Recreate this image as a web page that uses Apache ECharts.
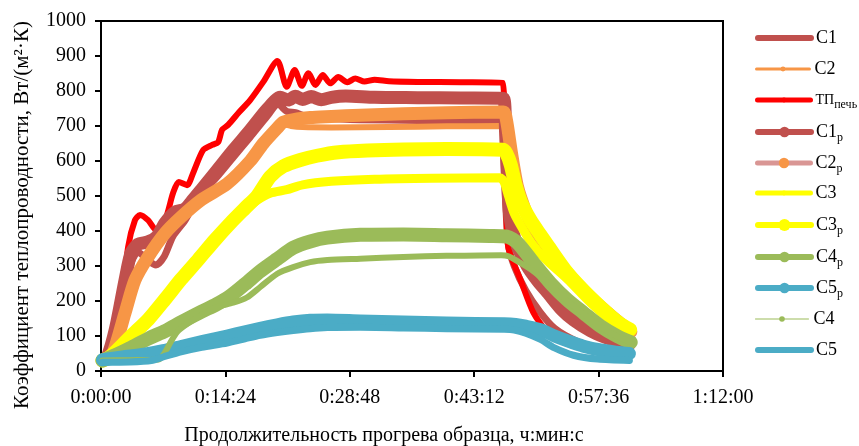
<!DOCTYPE html>
<html><head><meta charset="utf-8">
<script src="https://cdn.jsdelivr.net/npm/echarts@6/dist/echarts.min.js"></script>
<style>html,body{margin:0;padding:0;background:#fff}#c{width:859px;height:446px}</style>
</head><body><div id="c"></div>
<script>
// ---- tick labels ----
const xTickLabels = ['0:00:00', '0:14:24', '0:28:48', '0:43:12', '0:57:36', '1:12:00'];
const yTickLabels = ['0', '100', '200', '300', '400', '500', '600', '700', '800', '900', '1000'];

// ---- series data: [time in seconds, value] ----
const sC1 = [[10,30],[40,35],[100,110],[167,240],[209,310],[257,340],[320,318],[382,303],[440,328],[500,385],[585,431],[673,495],[807,555],[918,610],[1036,668],[1154,728],[1230,762],[1290,742],[1350,738],[1420,728],[1550,722],[1800,718],[2200,716],[2600,715],[2785,714],[2800,600],[2812,470],[2830,360],[2870,300],[2950,230],[3050,168],[3150,122],[3300,86],[3450,66],[3560,57],[3670,50]];
const sC2 = [[10,30],[40,36],[83,51],[167,166],[236,260],[327,326],[445,394],[556,440],[700,490],[876,535],[1036,600],[1127,650],[1224,694],[1266,705],[1320,700],[1400,697],[1600,696],[2000,697],[2400,699],[2770,700],[2800,650],[2815,560],[2830,460],[2850,410],[2890,360],[2960,300],[3032,255],[3100,222],[3200,172],[3282,143],[3400,112],[3500,95],[3600,82],[3670,74]];
const sTP = [[10,30],[40,40],[100,110],[139,170],[188,354],[236,431],[271,446],[327,431],[382,403],[445,431],[501,509],[540,540],[598,531],[640,566],[709,631],[772,646],[814,654],[841,689],[883,703],[960,740],[1036,774],[1127,826],[1225,886],[1290,812],[1345,860],[1395,815],[1440,851],[1490,817],[1540,846],[1592,822],[1648,840],[1711,825],[1766,836],[1830,827],[1900,832],[2000,828],[2200,826],[2500,825],[2790,823],[2805,620],[2815,460],[2830,350],[2914,260],[3004,166],[3100,112],[3200,88],[3350,66],[3470,55],[3600,48],[3665,46]];
const sC1p = [[10,30],[40,36],[100,120],[167,260],[209,337],[257,362],[327,369],[390,385],[445,423],[515,454],[580,462],[640,490],[700,520],[807,574],[918,631],[1036,688],[1154,748],[1245,782],[1300,774],[1350,785],[1400,776],[1460,784],[1530,775],[1600,782],[1700,786],[1900,782],[2200,781],[2500,780],[2795,779],[2810,680],[2822,560],[2840,440],[2880,370],[2960,300],[3032,258],[3100,225],[3200,175],[3282,146],[3400,115],[3500,97],[3600,84],[3670,76]];
const sC2p = [[10,30],[40,36],[83,51],[167,166],[236,260],[327,326],[445,394],[556,440],[700,490],[876,535],[1036,600],[1127,650],[1224,694],[1266,711],[1363,720],[1453,724],[1600,727],[1800,731],[2100,735],[2400,738],[2795,740],[2816,717],[2851,623],[2893,526],[2950,455],[2990,420],[3060,372],[3150,325],[3250,275],[3400,210],[3550,155],[3680,112]];
const sC3 = [[10,30],[60,40],[150,72],[210,95],[330,145],[445,200],[556,258],[675,315],[793,372],[904,420],[1000,460],[1085,488],[1175,508],[1290,518],[1400,532],[1600,542],[1900,548],[2300,551],[2770,552],[2800,540],[2830,500],[2870,450],[2930,405],[3000,360],[3080,322],[3240,262],[3400,195],[3588,128],[3670,108]];
const sC3p = [[10,30],[60,40],[150,75],[210,100],[330,148],[445,205],[556,262],[675,318],[793,375],[904,425],[1000,465],[1085,500],[1175,555],[1266,585],[1384,603],[1500,615],[1650,625],[1850,630],[2100,633],[2400,634],[2790,632],[2815,622],[2845,590],[2880,530],[2920,480],[2983,431],[3050,390],[3101,360],[3240,280],[3400,210],[3588,140],[3675,118]];
const sC4p = [[10,30],[100,45],[200,65],[330,93],[450,115],[560,140],[700,170],[800,190],[900,215],[1000,248],[1106,285],[1224,320],[1335,352],[1453,370],[1572,381],[1800,389],[2100,390],[2400,388],[2700,386],[2820,384],[2893,366],[3004,309],[3122,251],[3240,203],[3352,166],[3470,128],[3588,99],[3679,82]];
const sC5p = [[10,32],[150,40],[300,48],[431,58],[556,70],[700,84],[876,100],[1000,112],[1106,122],[1224,132],[1335,140],[1453,145],[1572,146],[1800,143],[2100,140],[2400,137],[2800,135],[2880,133],[2950,128],[3053,118],[3150,100],[3240,86],[3350,71],[3470,60],[3580,54],[3670,50]];
const sC4 = [[10,30],[200,31],[400,33],[440,50],[480,80],[530,112],[600,135],[700,160],[800,182],[918,195],[1013,210],[1106,240],[1224,278],[1335,297],[1453,311],[1572,317],[1800,321],[2100,326],[2400,329],[2780,331],[2830,328],[2900,312],[3004,285],[3122,245],[3240,200],[3352,163],[3470,126],[3588,98],[3670,84]];
const sC5 = [[10,25],[200,26],[350,30],[431,40],[556,55],[700,68],[876,80],[1000,92],[1106,102],[1224,110],[1335,116],[1453,121],[1572,124],[1800,125],[2100,123],[2400,121],[2800,119],[2870,117],[2950,108],[3053,90],[3150,66],[3282,45],[3450,34],[3670,30]];

const FONT = '"Liberation Serif", "Times New Roman", serif';

// name, data, plot color, plot width, legend line color, legend line width, legend icon height, legend centre y, label rich
const defs = [
  {name:'С1',   data:sC1,  color:'#C0504D', w:7,  lc:'#C0504D', lw:6, ih:6,  cy:38,  label:'{m|С1}'},
  {name:'С2',   data:sC2,  color:'#F79646', w:6,  lc:'#F79646', lw:3, ih:6,  cy:69,  label:'{m|С2}'},
  {name:'ТП печь', data:sTP, color:'#FF0000', w:6, lc:'#FF0000', lw:5, ih:6, cy:100, label:'{t|ТП}{u|печь}'},
  {name:'С1р',  data:sC1p, color:'#C0504D', w:13, lc:'#C0504D', lw:6, ih:13, cy:132, label:'{m|С1}{s|р}'},
  {name:'С2р',  data:sC2p, color:'#F79646', w:13, lc:'#D99694', lw:5, ih:13, cy:163, label:'{m|С2}{s|р}'},
  {name:'С3',   data:sC3,  color:'#FFFF00', w:9,  lc:'#FFFF00', lw:5, ih:6,  cy:193, label:'{m|С3}'},
  {name:'С3р',  data:sC3p, color:'#FFFF00', w:14, lc:'#FFFF00', lw:6, ih:15, cy:225, label:'{m|С3}{s|р}'},
  {name:'С4р',  data:sC4p, color:'#9BBB59', w:14, lc:'#9BBB59', lw:6, ih:13, cy:257, label:'{m|С4}{s|р}'},
  {name:'С5р',  data:sC5p, color:'#4BACC6', w:13, lc:'#4BACC6', lw:6, ih:13, cy:288, label:'{m|С5}{s|р}'},
  {name:'С4',   data:sC4,  color:'#9BBB59', w:6,  lc:'#9BBB59', lw:1, ih:7,  cy:319, label:'{m|С4}'},
  {name:'С5',   data:sC5,  color:'#4BACC6', w:7,  lc:'#4BACC6', lw:6, ih:6,  cy:350, label:'{m|С5}'}
];

const series = defs.map(d => ({
  name: d.name, type: 'line', data: d.data,
  smooth: 0.25,
  symbol: 'circle', showSymbol: false, symbolSize: 6,
  itemStyle: {color: d.color},
  lineStyle: {color: d.color, width: d.w, cap: 'round', join: 'round'},
  emphasis: {disabled: true}, animation: false
}));

const legends = defs.map(d => ({
  show: true, left: 755, top: d.cy - 12, padding: 0,
  itemWidth: 53, itemHeight: d.ih, itemGap: 0,
  selectedMode: false,
  data: [d.name],
  lineStyle: {color: d.lc, width: d.lw, cap: 'round'},
  formatter: () => d.label,
  textStyle: {
    color: '#000', fontFamily: FONT, fontSize: 18, lineHeight: 24,
    rich: {
      m: {fontFamily: FONT, fontSize: 18, lineHeight: 24, color: '#000'},
      s: {fontFamily: FONT, fontSize: 12, lineHeight: 12, padding: [12, 0, 0, 0], color: '#000'},
      t: {fontFamily: FONT, fontSize: 14, lineHeight: 24, color: '#000'},
      u: {fontFamily: FONT, fontSize: 12, lineHeight: 12, padding: [9, 0, 0, 0], color: '#000'}
    }
  }
}));

const chart = echarts.init(document.getElementById('c'), null, {renderer: 'canvas'});
chart.setOption({
  animation: false,
  backgroundColor: '#fff',
  grid: {left: 101, right: 136, top: 21, bottom: 75, containLabel: false, outerBoundsMode: 'none',
         show: true, borderColor: '#000', borderWidth: 2, backgroundColor: 'transparent'},
  xAxis: {
    type: 'value', min: 0, max: 4320, interval: 864,
    axisLine: {show: true, onZero: false, lineStyle: {color: '#000', width: 2}},
    axisTick: {show: true, length: 6, lineStyle: {color: '#000', width: 2}},
    splitLine: {show: false},
    axisLabel: {color: '#000', fontFamily: FONT, fontSize: 20, margin: 17,
                formatter: v => xTickLabels[Math.round(v / 864)]}
  },
  yAxis: {
    type: 'value', min: 0, max: 1000, interval: 100,
    axisLine: {show: true, onZero: false, lineStyle: {color: '#000', width: 2}},
    axisTick: {show: true, length: 6, lineStyle: {color: '#000', width: 2}},
    splitLine: {show: false},
    axisLabel: {color: '#000', fontFamily: FONT, fontSize: 20, margin: 15,
                formatter: v => yTickLabels[Math.round(v / 100)]}
  },
  legend: legends,
  series: series,
  graphic: [
    {type: 'text', x: 22, y: 215, rotation: Math.PI / 2,
     style: {text: 'Коэффициент теплопроводности, Вт/(м²·К)', fontFamily: FONT, fontSize: 21,
              fill: '#000', align: 'center', verticalAlign: 'middle'}},
    {type: 'text', x: 384, y: 436,
     style: {text: 'Продолжительность прогрева образца, ч:мин:с', fontFamily: FONT, fontSize: 20,
              fill: '#000', align: 'center', verticalAlign: 'middle'}}
  ]
});
</script>
</body></html>
